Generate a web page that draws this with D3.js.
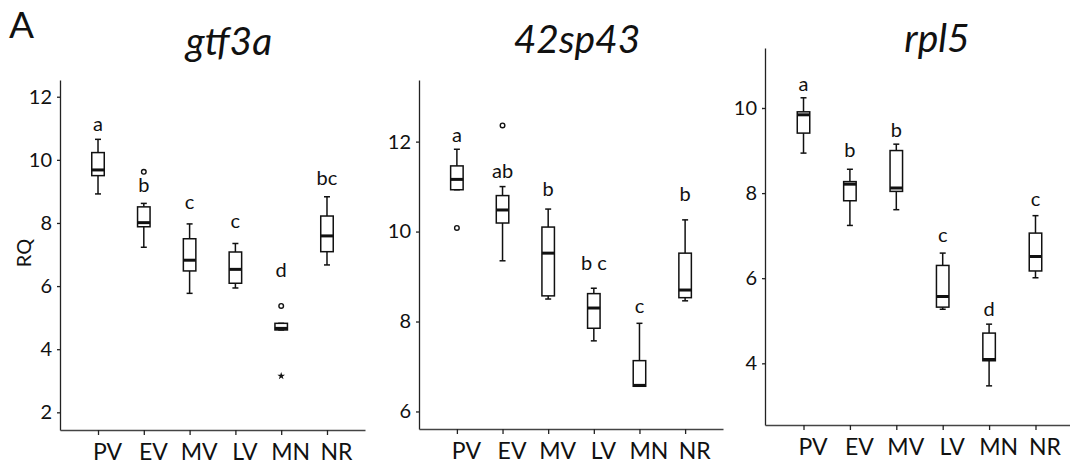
<!DOCTYPE html>
<html>
<head>
<meta charset="utf-8">
<script src="https://cdn.jsdelivr.net/npm/d3@7"></script>
<style>
  body { margin: 0; background: #fff; }
  svg { display: block; font-family: Lato, "Open Sans", sans-serif; }
</style>
</head>
<body>
<div id="chart"></div>
<script>
// groups on the x axis
const categories = ["PV", "EV", "MV", "LV", "MN", "NR"];
const genes = ["gtf3a", "42sp43", "rpl5"];

// box statistics, one row per gene
const lowWhisker = [
    [8.92, 7.23, 5.77, 5.94, 4.61, 6.67],
    [10.93, 9.35, 8.50, 7.57, 6.56, 8.46],
    [8.94, 7.24, 7.61, 5.27, 3.47, 6.01]
];
const q1 = [
    [9.50, 7.88, 6.48, 6.09, 4.61, 7.09],
    [10.93, 10.19, 8.57, 7.85, 6.56, 8.53],
    [9.41, 7.82, 8.04, 5.32, 4.06, 6.17]
];
const medians = [
    [9.68, 8.01, 6.82, 6.53, 4.66, 7.59],
    [11.16, 10.48, 9.52, 8.30, 6.58, 8.70],
    [9.84, 8.21, 8.12, 5.57, 4.09, 6.51]
];
const q3 = [
    [10.23, 8.51, 7.50, 7.08, 4.82, 8.22],
    [11.46, 10.80, 10.10, 8.62, 7.13, 9.52],
    [9.91, 8.27, 9.00, 6.30, 4.71, 7.06]
];
const highWhisker = [
    [10.65, 8.62, 7.97, 7.35, 4.82, 8.83],
    [11.83, 11.00, 10.50, 8.74, 7.96, 10.26],
    [10.24, 8.56, 9.15, 6.59, 4.92, 7.47]
];

// outliers: circles and one extreme (star)
const outliers = [
    [["EV", 9.62, "o"], ["MN", 5.37, "o"], ["MN", 3.15, "*"]],
    [["PV", 10.08, "o"], ["EV", 12.36, "o"]],
    []
];

// significance letters and the value where each sits
const letters = [
    ["a", "b", "c", "c", "d", "bc"],
    ["a", "ab", "b", "b c", "c", "b"],
    ["a", "b", "b", "c", "d", "c"]
];
const letterY = [
    [10.92, 8.99, 8.43, 7.83, 6.30, 9.20],
    [12.00, 11.19, 10.78, 9.15, 8.19, 10.67],
    [10.41, 8.85, 9.33, 6.84, 5.11, 7.70]
];

const yTicks = [[2, 4, 6, 8, 10, 12], [6, 8, 10, 12], [4, 6, 8, 10]];
const yDomains = [[1.44, 12.53], [5.61, 13.37], [2.55, 11.41]];

// panel frames in pixels
const frames = [
    { left: 60, right: 365, top: 80, bottom: 430, titleX: 229, titleY: 55 },
    { left: 419, right: 723, top: 80, bottom: 429, titleX: 577, titleY: 53 },
    { left: 765, right: 1074, top: 48, bottom: 425, titleX: 937, titleY: 52 }
];

const W = 1070, H = 472;
const ink = "#111";

const svg = d3.select("#chart").append("svg")
    .attr("width", W)
    .attr("height", H);

svg.append("text")
    .attr("x", 9)
    .attr("y", 38)
    .attr("font-size", 37)
    .attr("fill", ink)
    .text("A");

genes.forEach((gene, gi) => {
    let f = frames[gi];

    let x = d3.scalePoint()
        .domain(categories)
        .range([f.left, f.right])
        .padding(0.83);

    let y = d3.scaleLinear()
        .domain(yDomains[gi])
        .range([f.bottom, f.top]);

    let g = svg.append("g");

    // title
    g.append("text")
        .attr("x", f.titleX)
        .attr("y", f.titleY)
        .attr("text-anchor", "middle")
        .attr("font-size", 39)
        .attr("font-style", "italic")
        .attr("fill", ink)
        .text(gene);

    // y axis
    let yAxis = g.append("g")
        .attr("transform", "translate(" + f.left + ",0)")
        .call(d3.axisLeft(y).tickValues(yTicks[gi]).tickSize(3).tickPadding(5).tickSizeOuter(0));
    yAxis.select(".domain").attr("stroke", "#222").attr("stroke-width", 1.3);
    yAxis.selectAll(".tick line").attr("stroke", "#222").attr("stroke-width", 1.3);
    yAxis.selectAll("text").attr("font-size", 20).attr("fill", ink).attr("font-family", "Lato");

    // x axis
    let xAxis = g.append("g")
        .attr("transform", "translate(0," + f.bottom + ")")
        .call(d3.axisBottom(x).tickSize(5).tickPadding(9).tickSizeOuter(0));
    xAxis.select(".domain").attr("stroke", "#444").attr("stroke-width", 1.3);
    xAxis.selectAll(".tick line").attr("stroke", "#222").attr("stroke-width", 1.3);
    xAxis.selectAll("text")
        .attr("font-size", 23)
        .attr("fill", ink)
        .attr("font-family", "Lato")
        .attr("dx", 9);

    if (gi === 0) {
        g.append("text")
            .attr("transform", "translate(31,253) rotate(-90)")
            .attr("text-anchor", "middle")
            .attr("font-size", 20)
            .attr("fill", ink)
            .text("RQ");
    }

    let boxes = categories.map((c, i) => ({
        cat: c,
        lo: lowWhisker[gi][i],
        q1: q1[gi][i],
        med: medians[gi][i],
        q3: q3[gi][i],
        hi: highWhisker[gi][i],
        letter: letters[gi][i],
        ly: letterY[gi][i]
    }));

    let bw = 12.5, cw = 6;

    let box = g.selectAll(".box")
        .data(boxes)
        .join("g")
        .attr("class", "box")
        .attr("transform", d => "translate(" + x(d.cat) + ",0)");

    // whiskers
    box.append("line")
        .attr("x1", 0).attr("x2", 0)
        .attr("y1", d => y(d.hi)).attr("y2", d => y(d.q3))
        .attr("stroke", ink).attr("stroke-width", 1.5);
    box.append("line")
        .attr("x1", 0).attr("x2", 0)
        .attr("y1", d => y(d.q1)).attr("y2", d => y(d.lo))
        .attr("stroke", ink).attr("stroke-width", 1.5);
    box.append("line")
        .attr("x1", -cw / 2).attr("x2", cw / 2)
        .attr("y1", d => y(d.hi)).attr("y2", d => y(d.hi))
        .attr("stroke", ink).attr("stroke-width", 1.5);
    box.append("line")
        .attr("x1", -cw / 2).attr("x2", cw / 2)
        .attr("y1", d => y(d.lo)).attr("y2", d => y(d.lo))
        .attr("stroke", ink).attr("stroke-width", 1.5);

    // box
    box.append("rect")
        .attr("x", -bw / 2)
        .attr("width", bw)
        .attr("y", d => y(d.q3))
        .attr("height", d => y(d.q1) - y(d.q3))
        .attr("fill", "#fff")
        .attr("stroke", ink)
        .attr("stroke-width", 1.5);

    // median
    box.append("line")
        .attr("x1", -bw / 2).attr("x2", bw / 2)
        .attr("y1", d => y(d.med)).attr("y2", d => y(d.med))
        .attr("stroke", ink).attr("stroke-width", 3);

    // letters
    box.append("text")
        .attr("x", 0)
        .attr("y", d => y(d.ly))
        .attr("text-anchor", "middle")
        .attr("font-size", 20)
        .attr("fill", ink)
        .text(d => d.letter);

    // outliers
    let outs = outliers[gi].map(o => ({ cat: o[0], v: o[1], mark: o[2] }));
    g.selectAll(".out")
        .data(outs.filter(d => d.mark === "o"))
        .join("circle")
        .attr("cx", d => x(d.cat))
        .attr("cy", d => y(d.v))
        .attr("r", 2.3)
        .attr("fill", "none")
        .attr("stroke", ink)
        .attr("stroke-width", 1.4);
    g.selectAll(".ext")
        .data(outs.filter(d => d.mark === "*"))
        .join("path")
        .attr("transform", d => "translate(" + x(d.cat) + "," + y(d.v) + ")")
        .attr("d", d3.symbol(d3.symbolStar, 18))
        .attr("fill", ink);
});
</script>
</body>
</html>
